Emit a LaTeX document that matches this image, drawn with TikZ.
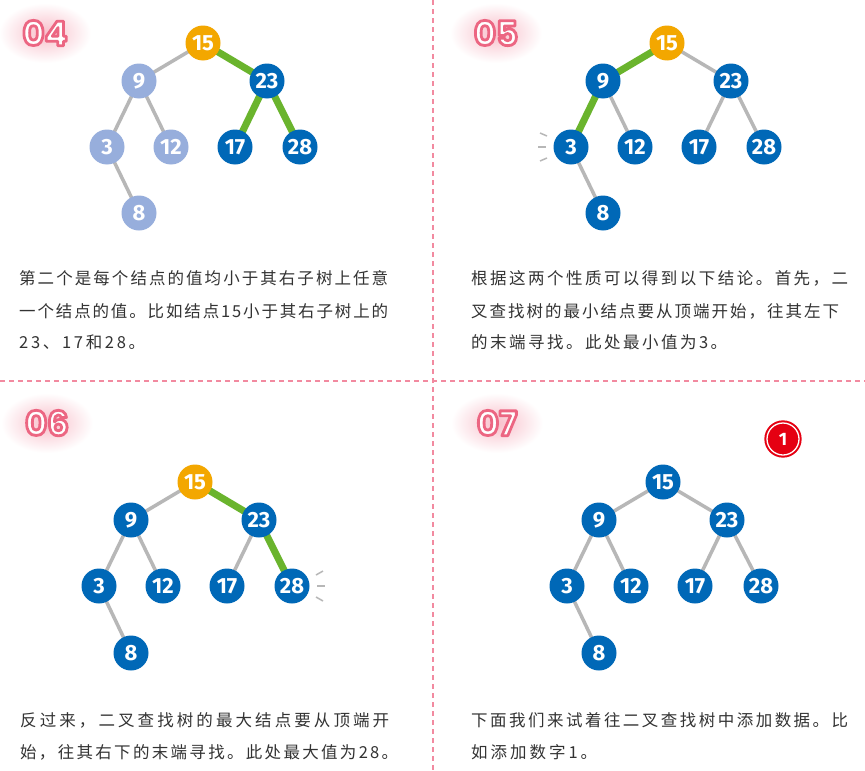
\documentclass[tikz,border=0pt]{standalone}
\usepackage{fontspec}
\setmainfont{Noto Sans CJK SC}
\newfontfamily\cjk{Noto Sans CJK SC}
\newfontfamily\keyfont{Fira Sans}
\newfontfamily\numfont{Poppins}
\usetikzlibrary{backgrounds}

\definecolor{keyblue}{HTML}{0068B7}
\definecolor{keyorange}{HTML}{F3A700}
\definecolor{keylight}{HTML}{97AEDC}
\definecolor{linkgrey}{HTML}{B7B7B7}
\definecolor{routegreen}{HTML}{6AB42D}
\definecolor{txtgrey}{HTML}{333333}
\definecolor{divpink}{HTML}{F28AA0}
\definecolor{markred}{HTML}{E50012}
\definecolor{glowpink}{HTML}{F8BFCA}

% spread one line of text over a fixed width
\ExplSyntaxOn
\NewDocumentCommand\jline{mm}
  { \hbox_to_wd:nn {#1} { \tl_map_inline:nn {#2} { ##1 \hfil } \unskip } }
\ExplSyntaxOff

% white glyphs with a pink outline
\newcommand\outlined[1]{%
  \special{pdf:literal direct 0.925 0.400 0.510 RG 2 Tr 2.8 w 1 j}#1%
  \special{pdf:literal direct 0 Tr 0.4 w 0 j}}

% glowing step number
\newcommand\stepnum[3]{%
  \coordinate (#1c) at (#2);
  \shade[inner color=glowpink, outer color=white] (#1c) ellipse (46 and 30);
  \node[numtext] (#1) at (#1c) {\outlined{#3}};}

\begin{document}
\begin{tikzpicture}[x=1pt,y=-1pt,
  bnode/.style={circle, minimum size=35pt, inner sep=0pt, fill=keyblue, text=white,
                font=\keyfont\bfseries\fontsize{22}{22}\selectfont},
  hot/.style={bnode, fill=keyorange},
  pale/.style={bnode, fill=keylight},
  link/.style={draw=linkgrey, line width=3.5pt},
  route/.style={draw=routegreen, line width=7pt},
  glint/.style={draw=linkgrey, line width=1.5pt},
  txt/.style={anchor=base west, inner sep=0pt, text=txtgrey,
              font=\cjk\fontsize{16.5}{20}\selectfont},
  divider/.style={draw=divpink, line width=1.5pt, dash pattern=on 5pt off 4pt},
  numtext/.style={inner sep=0pt, text=white, font=\numfont\bfseries\fontsize{34}{34}\selectfont},
  marker/.style={circle, minimum size=32pt, inner sep=0pt, fill=markred, text=white,
                 draw=markred, double=white, double distance=1.3pt, line width=2pt,
                 font=\keyfont\bfseries\fontsize{18}{18}\selectfont},
  ]
  \useasboundingbox (0,0) rectangle (865,771);
  \begin{scope}[on background layer]
    \fill[white] (0,0) rectangle (865,771);
  \end{scope}
  % ---- 04 ------------------------------------------------------------------
  \stepnum{s4}{45,33}{04}
  \begin{scope}[shift={(203,43)}, name prefix=d-]
    \node[hot]   (n15) at (0,0)      {15};
    \node[pale]  (n9)  at (-64,38)   {9};
    \node[bnode] (n23) at (64,38)    {23};
    \node[pale]  (n3)  at (-96,104)  {3};
    \node[pale]  (n12) at (-32,104)  {12};
    \node[bnode] (n17) at (32,104)   {17};
    \node[bnode] (n28) at (97,104)   {28};
    \node[pale]  (n8)  at (-64,170)  {8};
    \begin{scope}[on background layer]
      \draw[link]  (n15.center) -- (n9.center);
      \draw[link]  (n9.center) -- (n3.center);
      \draw[link]  (n9.center) -- (n12.center);
      \draw[link]  (n3.center) -- (n8.center);
      \draw[route] (n15.center) -- (n23.center);
      \draw[route] (n23.center) -- (n17.center);
      \draw[route] (n23.center) -- (n28.center);
    \end{scope}
  \end{scope}
  \node[txt] (t4a) at (19,284) {\jline{369pt}{第二个是每个结点的值均小于其右子树上任意}};
  \node[txt] (t4b) at (19,317) {\jline{369pt}{一个结点的值。比如结点15小于其右子树上的}};
  \node[txt] (t4c) at (19,348) {\jline{126pt}{23、17和28。}};
  % ---- 05 ------------------------------------------------------------------
  \stepnum{s5}{496,33}{05}
  \begin{scope}[shift={(667,43)}, name prefix=e-]
    \node[hot]   (n15) at (0,0)      {15};
    \node[bnode] (n9)  at (-64,38)   {9};
    \node[bnode] (n23) at (64,38)    {23};
    \node[bnode] (n3)  at (-96,104)  {3};
    \node[bnode] (n12) at (-32,104)  {12};
    \node[bnode] (n17) at (32,104)   {17};
    \node[bnode] (n28) at (97,104)   {28};
    \node[bnode] (n8)  at (-64,170)  {8};
    \begin{scope}[on background layer]
      \draw[link]  (n15.center) -- (n23.center);
      \draw[link]  (n23.center) -- (n17.center);
      \draw[link]  (n23.center) -- (n28.center);
      \draw[link]  (n9.center) -- (n12.center);
      \draw[link]  (n3.center) -- (n8.center);
      \draw[route] (n15.center) -- (n9.center);
      \draw[route] (n9.center) -- (n3.center);
    \end{scope}
    \draw[glint] ([shift={(-31,-14)}]n3.center) -- ++(7,3);
    \draw[glint] ([shift={(-33,0)}]n3.center) -- ++(8,0);
    \draw[glint] ([shift={(-31,14)}]n3.center) -- ++(7,-3);
  \end{scope}
  \node[txt] (t5a) at (471,284) {\jline{377pt}{根据这两个性质可以得到以下结论。首先，二}};
  \node[txt] (t5b) at (471,317) {\jline{368pt}{叉查找树的最小结点要从顶端开始，往其左下}};
  \node[txt] (t5c) at (471,348) {\jline{256pt}{的末端寻找。此处最小值为3。}};
  % ---- 06 ------------------------------------------------------------------
  \stepnum{s6}{47,423}{06}
  \begin{scope}[shift={(195,482)}, name prefix=f-]
    \node[hot]   (n15) at (0,0)      {15};
    \node[bnode] (n9)  at (-64,38)   {9};
    \node[bnode] (n23) at (64,38)    {23};
    \node[bnode] (n3)  at (-96,104)  {3};
    \node[bnode] (n12) at (-32,104)  {12};
    \node[bnode] (n17) at (32,104)   {17};
    \node[bnode] (n28) at (97,104)   {28};
    \node[bnode] (n8)  at (-64,171)  {8};
    \begin{scope}[on background layer]
      \draw[link]  (n15.center) -- (n9.center);
      \draw[link]  (n9.center) -- (n3.center);
      \draw[link]  (n9.center) -- (n12.center);
      \draw[link]  (n3.center) -- (n8.center);
      \draw[link]  (n23.center) -- (n17.center);
      \draw[route] (n15.center) -- (n23.center);
      \draw[route] (n23.center) -- (n28.center);
    \end{scope}
    \draw[glint] ([shift={(24,-11)}]n28.center) -- ++(7,-4);
    \draw[glint] ([shift={(25,0)}]n28.center) -- ++(8,0);
    \draw[glint] ([shift={(24,11)}]n28.center) -- ++(7,4);
  \end{scope}
  \node[txt] (t6a) at (20,726) {\jline{369pt}{反过来，二叉查找树的最大结点要从顶端开}};
  \node[txt] (t6b) at (20,758) {\jline{378pt}{始，往其右下的末端寻找。此处最大值为28。}};
  % ---- 07 ------------------------------------------------------------------
  \stepnum{s7}{497,423}{07}
  \node[marker] (one) at (783,439) {1};
  \begin{scope}[shift={(663,482)}, name prefix=g-]
    \node[bnode] (n15) at (0,0)      {15};
    \node[bnode] (n9)  at (-64,38)   {9};
    \node[bnode] (n23) at (64,38)    {23};
    \node[bnode] (n3)  at (-96,104)  {3};
    \node[bnode] (n12) at (-32,104)  {12};
    \node[bnode] (n17) at (32,104)   {17};
    \node[bnode] (n28) at (98,104)   {28};
    \node[bnode] (n8)  at (-64,171)  {8};
    \begin{scope}[on background layer]
      \draw[link] (n15.center) -- (n9.center);
      \draw[link] (n15.center) -- (n23.center);
      \draw[link] (n9.center) -- (n3.center);
      \draw[link] (n9.center) -- (n12.center);
      \draw[link] (n3.center) -- (n8.center);
      \draw[link] (n23.center) -- (n17.center);
      \draw[link] (n23.center) -- (n28.center);
    \end{scope}
  \end{scope}
  \node[txt] (t7a) at (471,726) {\jline{377pt}{下面我们来试着往二叉查找树中添加数据。比}};
  \node[txt] (t7b) at (471,758) {\jline{126pt}{如添加数字1。}};
  % ---- dividers --------------------------------------------------------------
  \draw[divider] (433,0) -- (433,771);
  \draw[divider] (0,381) -- (865,381);
\end{tikzpicture}
\end{document}
